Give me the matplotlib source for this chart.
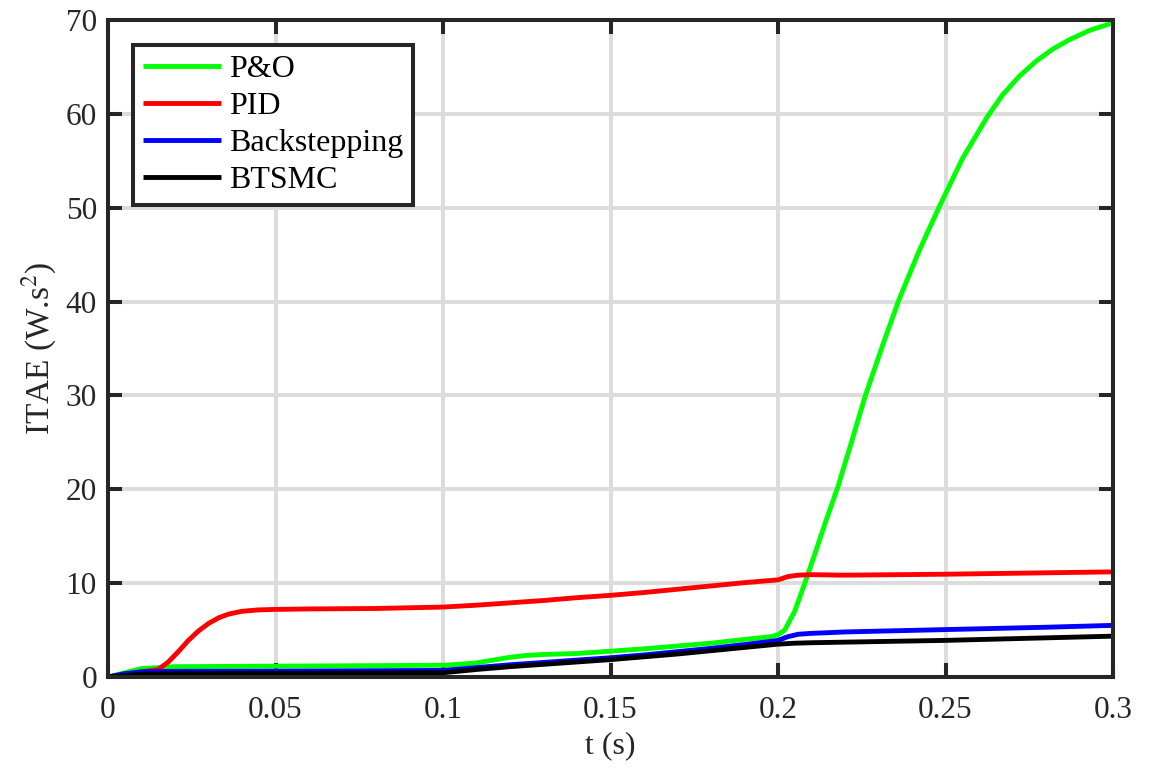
import matplotlib
matplotlib.use("Agg")
import matplotlib.pyplot as plt

# Time stamps (s) and cumulative ITAE (W.s^2) per controller
t_po = [0, 0.01, 0.02, 0.05, 0.1, 0.105, 0.11, 0.115, 0.12, 0.125, 0.13, 0.14,
        0.15, 0.16, 0.17, 0.18, 0.19, 0.198, 0.2, 0.202, 0.205, 0.208, 0.211,
        0.214, 0.218, 0.222, 0.226, 0.231, 0.236, 0.242, 0.248, 0.255, 0.2625,
        0.267, 0.272, 0.277, 0.282, 0.287, 0.293, 0.3]
itae_po = [0, 0.9, 1.1, 1.15, 1.25, 1.35, 1.5, 1.8, 2.1, 2.3, 2.4, 2.5,
           2.75, 3.0, 3.3, 3.6, 4.0, 4.3, 4.5, 5.0, 7.0, 10.0, 13.1,
           16.3, 20.4, 25.1, 29.9, 35.1, 40.1, 45.3, 50.0, 55.2, 59.7,
           62.0, 64.0, 65.6, 66.9, 67.9, 68.9, 69.7]

t_pid = [0, 0.01, 0.015, 0.018, 0.021, 0.024, 0.027, 0.03, 0.033, 0.036, 0.04,
         0.045, 0.05, 0.06, 0.08, 0.1, 0.11, 0.12, 0.13, 0.14, 0.15, 0.16, 0.17,
         0.18, 0.19, 0.2, 0.203, 0.206, 0.21, 0.22, 0.25, 0.28, 0.3]
itae_pid = [0, 0.55, 0.8, 1.6, 2.7, 3.9, 4.9, 5.7, 6.3, 6.7, 7.0,
            7.15, 7.2, 7.25, 7.3, 7.45, 7.65, 7.9, 8.15, 8.45, 8.7, 9.0, 9.35,
            9.7, 10.05, 10.35, 10.7, 10.85, 10.9, 10.85, 10.95, 11.1, 11.2]

t_bs = [0, 0.005, 0.01, 0.02, 0.05, 0.1, 0.11, 0.12, 0.13, 0.14, 0.15, 0.16,
        0.17, 0.18, 0.19, 0.2, 0.203, 0.206, 0.21, 0.215, 0.22, 0.25, 0.28, 0.3]
itae_bs = [0, 0.35, 0.55, 0.6, 0.62, 0.7, 1.0, 1.3, 1.55, 1.8, 2.05, 2.35,
           2.7, 3.05, 3.45, 3.9, 4.3, 4.55, 4.65, 4.72, 4.8, 5.05, 5.3, 5.5]

t_bt = [0, 0.01, 0.02, 0.05, 0.1, 0.11, 0.12, 0.13, 0.14, 0.15, 0.16, 0.17,
        0.18, 0.19, 0.2, 0.205, 0.21, 0.25, 0.3]
itae_bt = [0, 0.3, 0.35, 0.38, 0.45, 0.8, 1.1, 1.35, 1.6, 1.85, 2.15, 2.45,
           2.8, 3.15, 3.5, 3.6, 3.65, 3.9, 4.35]

labels = ["P&O", "PID", "Backstepping", "BTSMC"]
colors = ["#00ff00", "#ff0000", "#0000ff", "#000000"]
x_ticks = [0, 0.05, 0.1, 0.15, 0.2, 0.25, 0.3]
x_ticklabels = ["0", "0.05", "0.1", "0.15", "0.2", "0.25", "0.3"]
y_ticks = [0, 10, 20, 30, 40, 50, 60, 70]

plt.rcParams["font.family"] = ["Liberation Serif", "DejaVu Serif"]
plt.rcParams["mathtext.fontset"] = "stix"

fig = plt.figure(figsize=(11.49, 7.70), dpi=100)
ax = fig.add_axes([0.094, 0.1208, 0.8747, 0.8532])

axis_col = "#262626"
series = [(t_po, itae_po), (t_pid, itae_pid), (t_bs, itae_bs), (t_bt, itae_bt)]
for (t, y), lab, c in zip(series, labels, colors):
    ax.plot(t, y, color=c, lw=3.5, label=lab, solid_capstyle="butt",
            solid_joinstyle="round", zorder=3)

ax.set_xlim(0, 0.3)
ax.set_ylim(0, 70)
ax.set_xticks(x_ticks)
ax.set_xticklabels(x_ticklabels)
ax.set_yticks(y_ticks)
ax.grid(True, color="#dcdcdc", lw=2.9, zorder=0)
ax.set_axisbelow(True)

for s in ax.spines.values():
    s.set_color(axis_col)
    s.set_linewidth(2.9)
    s.set_zorder(4)
ax.tick_params(direction="in", length=10, width=2.9, color=axis_col,
               labelsize=22.5, labelcolor="#262626",
               top=True, right=True)
ax.tick_params(axis="x", pad=14)
ax.tick_params(axis="y", pad=8)

ax.set_xlabel("t (s)", fontsize=23, color="#262626", labelpad=4)
ax.set_ylabel(r"ITAE (W.s$^{2}$)", fontsize=24, color="#262626", labelpad=5)

leg = ax.legend(loc="upper left", bbox_to_anchor=(0.025, 0.962),
                borderaxespad=0, fontsize=23, fancybox=False,
                handlelength=2.45, handletextpad=0.25, labelspacing=0.24,
                borderpad=0.3, framealpha=1)
leg.get_frame().set_edgecolor(axis_col)
leg.get_frame().set_linewidth(2.9)
for h in leg.get_lines():
    h.set_linewidth(3.5)

fig.savefig("out.png", dpi=100, facecolor="white")
